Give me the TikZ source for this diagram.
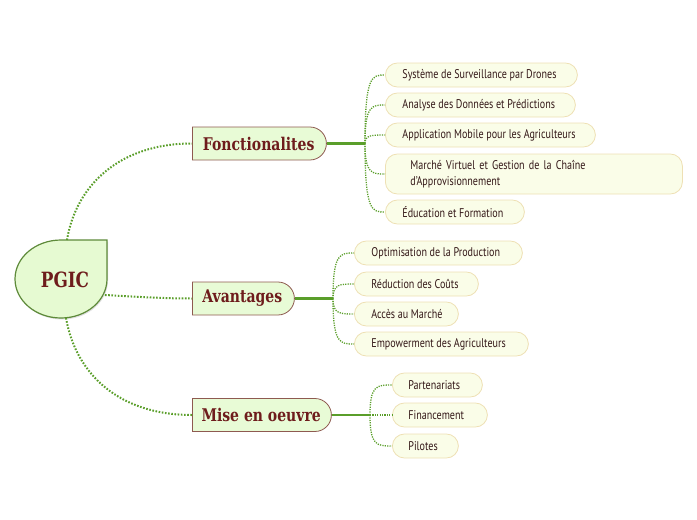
\documentclass[tikz,border=0pt]{standalone}
\usepackage{fontspec}
\usetikzlibrary{shapes.misc,shadows}
\setmainfont{PT Sans}[FakeStretch=0.8]
\newfontfamily\headfont{DejaVu Serif}[FakeStretch=0.8]
\definecolor{rootfill}{HTML}{E6FAD2}
\definecolor{rootline}{HTML}{5E8A3A}
\definecolor{mainfill}{HTML}{E8FBD6}
\definecolor{mainline}{HTML}{8E5A50}
\definecolor{headtxt}{HTML}{6E1C1C}
\definecolor{childfill}{HTML}{FAFDE8}
\definecolor{childline}{HTML}{EEE0B4}
\definecolor{childtxt}{HTML}{341818}
\definecolor{conn}{HTML}{5A9E2A}
\newcommand{\fixw}[2]{\makebox[#1pt][l]{#2}}
\tikzset{
  mainbox/.style={rounded rectangle, rounded rectangle west arc=none, draw=mainline, line width=0.8pt,
    fill=mainfill, text=headtxt, font=\headfont\bfseries\fontsize{17.5}{19}\selectfont,
    minimum height=33pt, inner xsep=12pt, anchor=west},
  childbox/.style={rectangle, rounded corners=12pt, draw=childline, line width=0.8pt, fill=childfill,
    text=childtxt, font=\fontsize{12.6}{15}\selectfont, minimum height=24pt, inner xsep=17pt,
    align=left, anchor=west},
  dotline/.style={draw=conn, line width=2pt, dash pattern=on 1.6pt off 1.6pt},
  thinline/.style={draw=conn, line width=1.3pt, dash pattern=on 1.2pt off 1.2pt},
  solidline/.style={draw=conn, line width=2.2pt}
}
\begin{document}
\begin{tikzpicture}[x=1pt,y=-1pt]
\useasboundingbox (0,0) rectangle (697,520);
% root
\path[fill=rootfill, draw=rootline, line width=1.2pt, drop shadow={opacity=0.25,shadow xshift=1pt,shadow yshift=-1.5pt}]
  (107,240) -- (107,279)
  .. controls (107,300.5) and (86.4,318) .. (61,318)
  .. controls (35.6,318) and (15,300.5) .. (15,279)
  .. controls (15,257.5) and (35.6,240) .. (61,240) -- cycle;
\node[text=headtxt, font=\headfont\bfseries\fontsize{21}{24}\selectfont] (root) at (65,280) {PGIC};
\coordinate (rtop) at (67,240);
\coordinate (rmid) at (105,295);
\coordinate (rbot) at (66,318);

% main boxes
\node[mainbox, minimum width=158pt] (f) at (192,143.5) {Fonctionalites};
\node[mainbox, minimum width=126pt] (a) at (192,298.5) {Avantages};
\node[mainbox, minimum width=163pt] (m) at (192,415) {Mise en oeuvre};

\draw[dotline] (rtop) .. controls (76,185) and (120,143.5) .. (f.west);
\draw[dotline] (rmid) .. controls (140,297) and (165,298.5) .. (a.west);
\draw[dotline] (rbot) .. controls (76,375) and (120,415) .. (m.west);

% junctions
\coordinate (fj) at (365,143.5);
\coordinate (aj) at (333,298.5);
\coordinate (mj) at (370,415);
\draw[solidline] (f.east) -- (fj);
\draw[solidline] (a.east) -- (aj);
\draw[solidline] (m.east) -- (mj);

% Fonctionalites children
\node[childbox] (f1) at (385,75) {\fixw{158}{Système de Surveillance par Drones}};
\node[childbox] (f2) at (385,105) {\fixw{156}{Analyse des Données et Prédictions}};
\node[childbox] (f3) at (385,135) {\fixw{176}{Application Mobile pour les Agriculteurs}};
\node[childbox, text width=247pt, inner xsep=25pt, minimum height=40pt, font=\fontsize{12.6}{16}\selectfont] (f4) at (385,174) {Marché Virtuel et Gestion de la Chaîne\\d'Approvisionnement};
\node[childbox] (f5) at (385,212) {\fixw{105}{Éducation et Formation}};

\draw[thinline] (fj) .. controls (365,75) and (372,75) .. (f1.west);
\draw[thinline] (fj) .. controls (365,105) and (372,105) .. (f2.west);
\draw[thinline] (fj) .. controls (365,135) and (372,135) .. (f3.west);
\draw[thinline] (fj) .. controls (365,174) and (372,174) .. (f4.west);
\draw[thinline] (fj) .. controls (365,212) and (372,212) .. (f5.west);

% Avantages children
\node[childbox] (a1) at (354,253) {\fixw{134}{Optimisation de la Production}};
\node[childbox] (a2) at (354,284) {\fixw{90}{Réduction des Coûts}};
\node[childbox] (a3) at (354,314) {\fixw{70}{Accès au Marché}};
\node[childbox] (a4) at (354,344) {\fixw{140}{Empowerment des Agriculteurs}};

\draw[thinline] (aj) .. controls (333,253) and (340,253) .. (a1.west);
\draw[thinline] (aj) .. controls (333,284) and (340,284) .. (a2.west);
\draw[thinline] (aj) .. controls (333,314) and (340,314) .. (a3.west);
\draw[thinline] (aj) .. controls (333,344) and (340,344) .. (a4.west);

% Mise en oeuvre children
\node[childbox, inner xsep=16pt] (m1) at (392,385) {\fixw{58}{Partenariats}};
\node[childbox, inner xsep=16pt] (m2) at (392,415) {\fixw{63}{Financement}};
\node[childbox, inner xsep=16pt] (m3) at (392,446) {\fixw{34}{Pilotes}};

\draw[thinline] (mj) .. controls (370,385) and (377,385) .. (m1.west);
\draw[thinline] (mj) -- (m2.west);
\draw[thinline] (mj) .. controls (370,446) and (377,446) .. (m3.west);
\end{tikzpicture}
\end{document}
